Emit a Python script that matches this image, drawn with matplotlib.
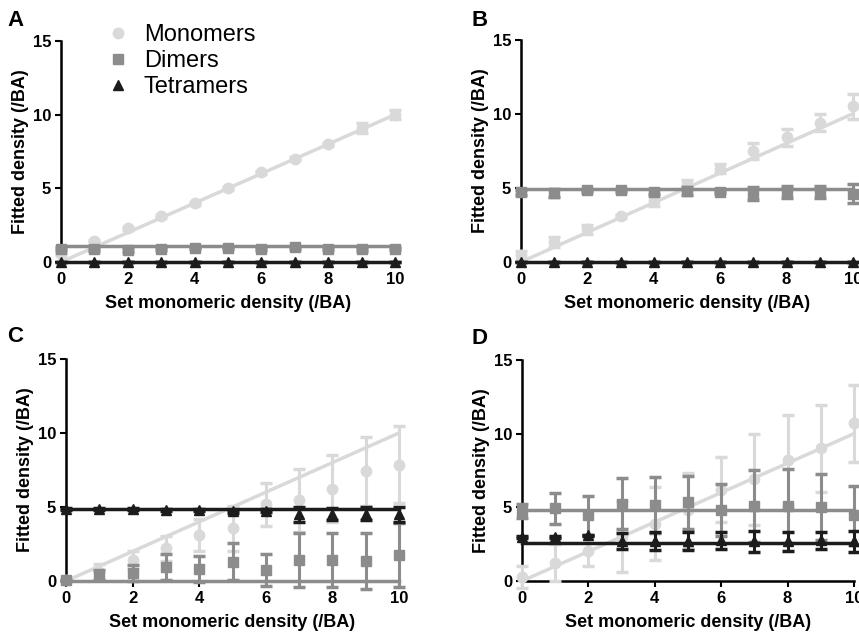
import numpy as np
import matplotlib.pyplot as plt
from matplotlib.lines import Line2D

plt.rcParams['font.family'] = ['Liberation Sans', 'DejaVu Sans']

x = np.arange(0, 11)

# panel A
mono_A = [0.55, 1.4, 2.3, 3.1, 4.0, 5.0, 6.1, 7.0, 8.0, 9.1, 10.0]
mono_A_err = [0.1, 0.1, 0.1, 0.1, 0.1, 0.1, 0.1, 0.1, 0.1, 0.35, 0.3]
dim_A = [0.9, 0.85, 0.8, 0.9, 0.95, 0.95, 0.9, 1.0, 0.9, 0.85, 0.9]
dim_A_err = [0.1, 0.1, 0.15, 0.1, 0.1, 0.1, 0.1, 0.1, 0.1, 0.1, 0.1]
tet_A = [0, 0, 0, 0, 0, 0, 0, 0, 0, 0, 0]
tet_A_err = [0, 0, 0, 0, 0, 0, 0, 0, 0, 0, 0]

# panel B
mono_B = [0.45, 1.35, 2.2, 3.1, 4.1, 5.2, 6.3, 7.5, 8.4, 9.4, 10.5]
mono_B_err = [0.3, 0.35, 0.3, 0.1, 0.3, 0.35, 0.3, 0.55, 0.55, 0.6, 0.85]
dim_B = [4.7, 4.65, 4.85, 4.85, 4.75, 4.8, 4.75, 4.6, 4.7, 4.7, 4.6]
dim_B_err = [0.15, 0.25, 0.1, 0.1, 0.15, 0.25, 0.1, 0.45, 0.4, 0.4, 0.65]
tet_B = [0, 0, 0, 0, 0, 0, 0, 0, 0, 0, 0]
tet_B_err = [0, 0, 0, 0, 0, 0, 0, 0, 0, 0, 0]

# panel C
mono_C = [0.1, 0.6, 1.4, 2.2, 3.1, 3.55, 5.2, 5.45, 6.25, 7.4, 7.85]
mono_C_err = [0.1, 0.55, 0.6, 0.85, 1.1, 1.55, 1.45, 2.15, 2.25, 2.3, 2.6]
dim_C = [0.05, 0.4, 0.52, 0.95, 0.8, 1.3, 0.75, 1.42, 1.42, 1.37, 1.76]
dim_C_err = [0.05, 0.35, 0.55, 0.9, 0.9, 1.25, 1.1, 1.8, 1.8, 1.9, 2.15]
tet_C = [4.85, 4.85, 4.85, 4.8, 4.8, 4.7, 4.75, 4.5, 4.55, 4.55, 4.5]
tet_C_err = [0.05, 0.05, 0.05, 0.05, 0.05, 0.1, 0.1, 0.5, 0.4, 0.45, 0.5]

# panel D
mono_D = [0.3, 1.25, 2.05, 3.0, 3.9, 4.8, 6.2, 6.9, 8.2, 9.0, 10.7]
mono_D_err = [0.75, 1.25, 1.0, 2.4, 2.45, 2.55, 2.2, 3.1, 3.1, 2.95, 2.6]
dim_D = [4.75, 4.95, 4.45, 5.25, 5.15, 5.35, 4.8, 5.1, 5.1, 5.0, 4.45]
dim_D_err = [0.45, 1.05, 1.35, 1.75, 1.9, 1.8, 1.75, 2.45, 2.5, 2.25, 2.0]
tet_D = [3.0, 3.0, 3.1, 2.7, 2.7, 2.7, 2.75, 2.7, 2.7, 2.75, 2.7]
tet_D_err = [0.05, 0.05, 0.05, 0.55, 0.6, 0.6, 0.6, 0.7, 0.65, 0.6, 0.7]

# fitted lines: monomer slope, dimer level, tetramer level
mono_slope = {'A': 1.0, 'B': 1.0, 'C': 1.0, 'D': 1.0}
dim_level = {'A': 1.1, 'B': 4.9, 'C': 0.0, 'D': 4.8}
tet_level = {'A': 0.0, 'B': 0.0, 'C': 4.85, 'D': 2.58}

panels = {
    'A': (mono_A, mono_A_err, dim_A, dim_A_err, tet_A, tet_A_err),
    'B': (mono_B, mono_B_err, dim_B, dim_B_err, tet_B, tet_B_err),
    'C': (mono_C, mono_C_err, dim_C, dim_C_err, tet_C, tet_C_err),
    'D': (mono_D, mono_D_err, dim_D, dim_D_err, tet_D, tet_D_err),
}

# axes boxes in pixels: left, right, top, bottom
boxes = {
    'A': (61, 395, 41, 262),
    'B': (521, 853, 39.5, 262),
    'C': (66, 399, 359, 581),
    'D': (522, 854, 360, 581),
}
letter_pos = {'A': (7, 21), 'B': (471, 21), 'C': (7, 336), 'D': (471, 338)}

c_mono = '#d9d9d9'
c_dim = '#8c8c8c'
c_tet = '#1c1c1c'

W, H = 859, 635
fig = plt.figure(figsize=(W / 100, H / 100), dpi=100)

for name, (mono, mono_err, dim, dim_err, tet, tet_err) in panels.items():
    l, r, t, b = boxes[name]
    ax = fig.add_axes([l / W, 1 - b / H, (r - l) / W, (b - t) / H])

    xl = np.array([0, 10])
    ax.plot(xl, mono_slope[name] * xl, color=c_mono, lw=2.5, clip_on=False, zorder=2)
    ax.errorbar(x, mono, yerr=mono_err, fmt='o', color=c_mono, ms=7.5, elinewidth=2.2,
                capsize=4, capthick=2.5, clip_on=False, zorder=3)
    ax.plot(xl, [dim_level[name]] * 2, color=c_dim, lw=2.5, clip_on=False, zorder=4)
    ax.errorbar(x, dim, yerr=dim_err, fmt='s', color=c_dim, ms=7, elinewidth=2.2,
                capsize=4, capthick=2.5, clip_on=False, zorder=5)
    ax.plot(xl, [tet_level[name]] * 2, color=c_tet, lw=2.5, clip_on=False, zorder=6)
    ax.errorbar(x, tet, yerr=tet_err, fmt='^', color=c_tet, ms=7.5, elinewidth=2.2,
                capsize=4, capthick=2.5, clip_on=False, zorder=7)

    ax.set_xlim(0, 10)
    ax.set_ylim(0, 15)
    ax.set_xticks([0, 2, 4, 6, 8, 10])
    ax.set_yticks([0, 5, 10, 15])
    ax.spines['top'].set_visible(False)
    ax.spines['right'].set_visible(False)
    ax.spines['left'].set_linewidth(1.8)
    ax.spines['bottom'].set_linewidth(1.8)
    ax.tick_params(width=1.5, length=4.5, pad=2.5, labelsize=12)
    for lab in ax.get_xticklabels() + ax.get_yticklabels():
        lab.set_fontweight('bold')
    ax.set_xlabel('Set monomeric density (/BA)', fontsize=13, fontweight='bold', labelpad=6)
    ax.set_ylabel('Fitted density (/BA)', fontsize=13, fontweight='bold', labelpad=2.5)

    lx, ly = letter_pos[name]
    fig.text(lx / W, 1 - ly / H, name, fontsize=16, fontweight='bold', va='center', ha='left')

    if name == 'A':
        handles = [
            Line2D([], [], ls='none', marker='o', color=c_mono, ms=7.5),
            Line2D([], [], ls='none', marker='s', color=c_dim, ms=7),
            Line2D([], [], ls='none', marker='^', color=c_tet, ms=7.5),
        ]
        ax.legend(handles, ['Monomers', 'Dimers', 'Tetramers'], loc='upper left',
                  bbox_to_anchor=(106 / W, 1 - 24 / H), bbox_transform=fig.transFigure,
                  frameon=False, fontsize=17, handlelength=1.0, handletextpad=0.6,
                  labelspacing=0.17, borderpad=0, borderaxespad=0)

fig.savefig('out.png', dpi=100)
